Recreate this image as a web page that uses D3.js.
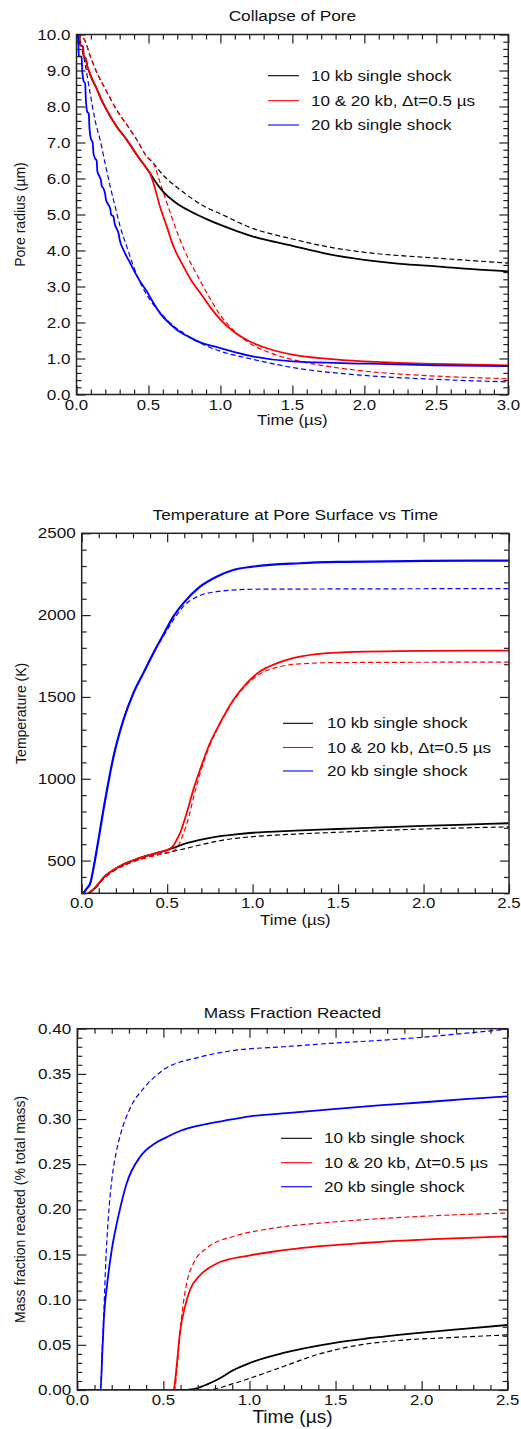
<!DOCTYPE html>
<html>
<head>
<meta charset="utf-8">
<script src="https://cdn.jsdelivr.net/npm/d3@7"></script>
<style>
  html, body { margin: 0; padding: 0; background: #fff; }
  svg { display: block; }
  text { font-family: "Liberation Sans", Arial, Helvetica, sans-serif; fill: #111; }
</style>
</head>
<body>
<svg id="chart" width="521" height="1429"></svg>
<script>
// ---- shared legend ----
const seriesNames = ["10 kb single shock", "10 & 20 kb, \u0394t=0.5 \u00b5s", "20 kb single shock"];
const seriesColors = ["#000000", "#ff0000", "#0000ff"];

// ---- Collapse of Pore: radius (µm) vs time (µs) ----
const poreXTicks = [0, 0.5, 1.0, 1.5, 2.0, 2.5, 3.0];
const poreYTicks = [0, 1, 2, 3, 4, 5, 6, 7, 8, 9, 10];
const poreBlackSolid = [[0,10],[0.02,9.95],[0.025,9.72],[0.045,9.66],[0.05,9.4],[0.065,9.32],[0.076,9.1],[0.09,8.95],[0.106,8.78],[0.14,8.5],[0.164,8.27],[0.21,7.9],[0.28,7.44],[0.35,7.07],[0.42,6.65],[0.488,6.28],[0.51,6.15],[0.55,5.9],[0.6,5.64],[0.7,5.3],[0.8,5.07],[0.9,4.88],[1.0,4.71],[1.2,4.42],[1.5,4.13],[1.75,3.9],[2.0,3.74],[2.25,3.63],[2.5,3.56],[2.75,3.48],[3.0,3.42]];
const poreBlackDashed = [[0,10],[0.05,9.89],[0.1,9.35],[0.14,8.96],[0.21,8.41],[0.28,7.9],[0.35,7.49],[0.42,7.07],[0.488,6.61],[0.535,6.42],[0.6,6.1],[0.7,5.75],[0.8,5.45],[0.9,5.2],[1.0,5.02],[1.2,4.65],[1.5,4.32],[1.75,4.1],[2.0,3.95],[2.5,3.79],[3.0,3.65]];
const poreRedSolid = [[0,10],[0.02,9.95],[0.025,9.72],[0.045,9.66],[0.05,9.4],[0.065,9.32],[0.076,9.1],[0.09,8.95],[0.106,8.78],[0.14,8.5],[0.164,8.27],[0.21,7.9],[0.28,7.44],[0.35,7.07],[0.42,6.65],[0.488,6.28],[0.51,6.15],[0.535,5.87],[0.58,5.22],[0.627,4.67],[0.674,4.11],[0.743,3.56],[0.8,3.15],[0.86,2.82],[0.93,2.42],[1.0,2.08],[1.1,1.72],[1.2,1.48],[1.35,1.25],[1.5,1.11],[1.75,0.99],[2.0,0.92],[2.5,0.85],[3.0,0.81]];
const poreRedDashed = [[0,10],[0.05,9.89],[0.1,9.35],[0.14,8.96],[0.21,8.41],[0.28,7.9],[0.35,7.49],[0.42,7.07],[0.488,6.61],[0.535,6.42],[0.58,5.9],[0.63,5.3],[0.7,4.5],[0.75,4.0],[0.8,3.6],[0.86,3.15],[0.93,2.65],[1.0,2.2],[1.1,1.75],[1.2,1.43],[1.35,1.15],[1.5,0.97],[1.75,0.78],[2.0,0.65],[2.5,0.51],[3.0,0.44]];
const poreBlueSolid = [[0,10],[0.012,9.98],[0.016,9.4],[0.035,9.38],[0.04,9.0],[0.05,8.7],[0.06,8.64],[0.065,8.2],[0.075,7.85],[0.085,7.8],[0.09,7.4],[0.1,7.1],[0.112,7.0],[0.118,6.7],[0.13,6.55],[0.14,6.5],[0.145,6.2],[0.16,6.05],[0.17,5.95],[0.175,5.8],[0.19,5.7],[0.2,5.55],[0.205,5.4],[0.222,5.27],[0.235,5.15],[0.24,5.0],[0.257,4.94],[0.265,4.75],[0.28,4.6],[0.292,4.48],[0.3,4.3],[0.326,4.02],[0.34,3.9],[0.361,3.74],[0.396,3.47],[0.442,3.14],[0.488,2.87],[0.535,2.54],[0.58,2.26],[0.64,2.0],[0.697,1.8],[0.78,1.6],[0.86,1.45],[1.0,1.29],[1.2,1.08],[1.5,0.92],[2.0,0.86],[2.5,0.81],[3.0,0.79]];
const poreBlueDashed = [[0,10],[0.05,9.38],[0.095,8.36],[0.13,7.6],[0.164,7.07],[0.2,6.4],[0.234,5.78],[0.27,5.2],[0.303,4.67],[0.35,4.1],[0.396,3.56],[0.45,3.05],[0.51,2.63],[0.57,2.33],[0.627,2.08],[0.68,1.88],[0.743,1.71],[0.8,1.56],[0.86,1.43],[1.0,1.2],[1.2,1.0],[1.5,0.75],[2.0,0.53],[2.5,0.42],[3.0,0.35]];

// ---- Temperature at pore surface (K) vs time (µs) ----
const tempXTicks = [0, 0.5, 1.0, 1.5, 2.0, 2.5];
const tempYTicks = [500, 1000, 1500, 2000, 2500];
const tempBlackSolid = [[0.04,300],[0.07,325],[0.1,360],[0.127,395],[0.16,425],[0.205,455],[0.25,480],[0.302,502],[0.35,520],[0.4,535],[0.45,550],[0.497,563],[0.55,582],[0.6,602],[0.692,626],[0.8,648],[0.9,660],[1.0,670],[1.25,683],[1.5,693],[1.75,703],[2.0,712],[2.25,720],[2.5,728]];
const tempBlackDashed = [[0.04,300],[0.07,322],[0.1,355],[0.127,388],[0.16,418],[0.205,448],[0.25,472],[0.302,494],[0.35,510],[0.4,525],[0.45,537],[0.497,547],[0.55,560],[0.6,572],[0.692,595],[0.8,620],[0.9,636],[1.0,646],[1.25,662],[1.5,673],[1.75,684],[2.0,693],[2.25,700],[2.5,706]];
const tempRedSolid = [[0.04,300],[0.07,325],[0.1,360],[0.127,395],[0.16,425],[0.205,455],[0.25,480],[0.302,502],[0.35,520],[0.4,535],[0.45,550],[0.497,563],[0.515,572],[0.536,590],[0.555,625],[0.575,667],[0.614,789],[0.653,932],[0.692,1054],[0.75,1217],[0.809,1339],[0.887,1481],[0.965,1583],[1.042,1655],[1.14,1705],[1.276,1746],[1.5,1771],[2.0,1781],[2.5,1783]];
const tempRedDashed = [[0.04,300],[0.07,322],[0.1,355],[0.127,388],[0.16,418],[0.205,448],[0.25,472],[0.302,494],[0.35,510],[0.4,525],[0.45,537],[0.497,547],[0.53,556],[0.555,575],[0.575,610],[0.6,680],[0.625,760],[0.653,880],[0.692,1030],[0.75,1205],[0.809,1335],[0.887,1475],[0.965,1575],[1.042,1640],[1.14,1680],[1.276,1702],[1.5,1710],[2.0,1712],[2.5,1713]];
const tempBlueSolid = [[0.01,300],[0.03,330],[0.05,361],[0.07,460],[0.088,565],[0.108,690],[0.127,809],[0.146,920],[0.166,1033],[0.185,1130],[0.205,1217],[0.244,1359],[0.302,1522],[0.36,1644],[0.419,1767],[0.477,1879],[0.536,1991],[0.594,2072],[0.692,2174],[0.789,2235],[0.887,2276],[1.0,2296],[1.276,2317],[1.5,2325],[2.0,2331],[2.5,2333]];
const tempBlueDashed = [[0.01,300],[0.03,330],[0.05,361],[0.07,460],[0.088,565],[0.108,690],[0.127,809],[0.146,920],[0.166,1033],[0.185,1130],[0.205,1217],[0.244,1359],[0.302,1522],[0.36,1644],[0.419,1767],[0.477,1869],[0.536,1970],[0.594,2052],[0.692,2120],[0.789,2143],[1.0,2158],[1.5,2160],[2.5,2162]];

// ---- Mass fraction reacted vs time (µs) ----
const massXTicks = [0, 0.5, 1.0, 1.5, 2.0, 2.5];
const massYTicks = [0, 0.05, 0.10, 0.15, 0.20, 0.25, 0.30, 0.35, 0.40];
const massBlackSolid = [[0,0],[0.6,0],[0.674,0.001],[0.751,0.006],[0.829,0.013],[0.906,0.022],[1.003,0.03],[1.197,0.041],[1.487,0.052],[1.68,0.057],[1.971,0.063],[2.26,0.068],[2.5,0.072]];
const massBlackDashed = [[0,0],[0.75,0],[0.906,0.007],[1.003,0.013],[1.197,0.026],[1.39,0.039],[1.584,0.048],[1.875,0.055],[2.165,0.058],[2.5,0.061]];
const massRedSolid = [[0,0],[0.56,0],[0.565,0.005],[0.577,0.026],[0.596,0.063],[0.625,0.092],[0.655,0.111],[0.713,0.127],[0.81,0.14],[1.003,0.149],[1.294,0.157],[1.68,0.163],[2.068,0.167],[2.5,0.17]];
const massRedDashed = [[0,0],[0.565,0],[0.57,0.005],[0.58,0.026],[0.606,0.081],[0.635,0.118],[0.674,0.14],[0.751,0.157],[0.906,0.17],[1.1,0.178],[1.487,0.186],[1.971,0.192],[2.5,0.196]];
const massBlueSolid = [[0,0],[0.135,0],[0.145,0.04],[0.155,0.081],[0.174,0.118],[0.2,0.155],[0.238,0.192],[0.287,0.229],[0.364,0.258],[0.45,0.273],[0.52,0.28],[0.6,0.287],[0.713,0.293],[0.85,0.298],[1.003,0.303],[1.25,0.307],[1.487,0.311],[1.75,0.315],[1.971,0.318],[2.25,0.322],[2.5,0.325]];
const massBlueDashed = [[0,0],[0.135,0],[0.145,0.045],[0.155,0.09],[0.165,0.14],[0.18,0.19],[0.2,0.232],[0.225,0.262],[0.254,0.285],[0.302,0.31],[0.39,0.335],[0.505,0.355],[0.7,0.368],[0.912,0.376],[1.2,0.38],[1.487,0.384],[1.75,0.387],[1.971,0.39],[2.2,0.394],[2.5,0.3995]];

const svg = d3.select("#chart");

// Horizontal text in a slightly widened face, like the plotting package's lettering
function label(g, x, y, s, size, sx, anchor) {
  return g.append("text")
    .attr("transform", `translate(${x},${y}) scale(${sx},1)`)
    .attr("text-anchor", anchor || "start")
    .style("font-size", size + "px")
    .text(s);
}

// Inward tick marks on all four sides, drawn with d3 axis generators
function drawTicks(g, p, x, y) {
  const majorLen = 9, minorLen = 5;
  const isMajor = (v, arr) => arr.some(m => Math.abs(m - v) < 1e-9);
  const xMinor = x.ticks(p.xMinorCount).filter(v => !isMajor(v, p.xTicks));
  const yMinor = y.ticks(p.yMinorCount).filter(v => !isMajor(v, p.yTicks));
  const sets = [
    [d3.axisBottom(x), p.xTicks, xMinor, `translate(0,${p.bottom})`],
    [d3.axisTop(x), p.xTicks, xMinor, `translate(0,${p.top})`],
    [d3.axisLeft(y), p.yTicks, yMinor, `translate(${p.left},0)`],
    [d3.axisRight(y), p.yTicks, yMinor, `translate(${p.right},0)`]
  ];
  sets.forEach(([ax, major, minor, tr]) => {
    [[major, majorLen], [minor, minorLen]].forEach(([vals, len]) => {
      const a = g.append("g").attr("transform", tr)
        .call(ax.tickValues(vals).tickSizeInner(-len).tickSizeOuter(0).tickFormat(""));
      a.select(".domain").remove();
      a.selectAll(".tick line").attr("stroke", "#222").attr("stroke-width", 1.2);
    });
  });
}

let clipId = 0;
function drawPanel(p) {
  const g = svg.append("g");
  const x = d3.scaleLinear().domain(p.xDomain).range([p.left, p.right]);
  const y = d3.scaleLinear().domain(p.yDomain).range([p.bottom, p.top]);

  const id = "clip" + (clipId++);
  svg.append("defs").append("clipPath").attr("id", id).append("rect")
    .attr("x", p.left).attr("y", p.top)
    .attr("width", p.right - p.left).attr("height", p.bottom - p.top);

  const line = d3.line().x(d => x(d[0])).y(d => y(d[1])).curve(d3.curveMonotoneX);
  const lines = g.append("g").attr("clip-path", `url(#${id})`);
  // dashed model curves beneath, solid curves on top
  p.series.forEach((s, i) => {
    lines.append("path").datum(s.dashed)
      .attr("fill", "none").attr("stroke", seriesColors[i])
      .attr("stroke-width", 1.2).attr("stroke-dasharray", "5,3")
      .attr("d", line);
  });
  p.series.forEach((s, i) => {
    lines.append("path").datum(s.solid)
      .attr("fill", "none").attr("stroke", seriesColors[i])
      .attr("stroke-width", i === 2 && p.thickBlue ? 2.2 : 1.8)
      .attr("stroke-linejoin", "round")
      .attr("d", line);
  });

  drawTicks(g.append("g"), p, x, y);

  // frame
  g.append("rect")
    .attr("x", p.left).attr("y", p.top)
    .attr("width", p.right - p.left).attr("height", p.bottom - p.top)
    .attr("fill", "none").attr("stroke", "#222").attr("stroke-width", 1.5);

  // tick labels
  const xf = d3.format(p.xFormat), yf = p.yFormat ? d3.format(p.yFormat) : String;
  p.xTicks.forEach(v => label(g, x(v), p.bottom + 15, xf(v), 14, 1.2, "middle"));
  p.yTicks.forEach(v => label(g, p.left - 6, y(v) + 5, yf(v), 14, 1.22, "end"));

  // titles
  label(g, (p.left + p.right) / 2, p.titleY, p.title, 15, 1.15, "middle");
  label(g, (p.left + p.right) / 2, p.xTitleY, "Time (\u00b5s)", p.xTitleSize, p.xTitleScale, "middle");
  g.append("text")
    .attr("transform", `translate(${p.yTitleX},${(p.top + p.bottom) / 2}) rotate(-90)`)
    .attr("text-anchor", "middle")
    .style("font-size", "14px")
    .text(p.yTitle);

  // legend
  const lg = g.append("g");
  seriesNames.forEach((name, i) => {
    const ly = p.legend.y[i];
    lg.append("line")
      .attr("x1", p.legend.x0).attr("x2", p.legend.x1)
      .attr("y1", ly).attr("y2", ly)
      .attr("stroke", seriesColors[i]).attr("stroke-width", 1.1);
    label(lg, p.legend.tx, ly + 5, name, 14, 1.22, "start");
  });
}

drawPanel({
  title: "Collapse of Pore", titleY: 21,
  yTitle: "Pore radius (\u00b5m)", yTitleX: 25,
  xTitleY: 425, xTitleSize: 14, xTitleScale: 1.2,
  left: 76.5, right: 508.3, top: 34.5, bottom: 394.5,
  xDomain: [0, 3], yDomain: [0, 10],
  xTicks: poreXTicks, yTicks: poreYTicks, xMinorCount: 30, yMinorCount: 50,
  xFormat: ".1f", yFormat: ".1f",
  series: [
    { solid: poreBlackSolid, dashed: poreBlackDashed },
    { solid: poreRedSolid, dashed: poreRedDashed },
    { solid: poreBlueSolid, dashed: poreBlueDashed }
  ],
  legend: { x0: 268, x1: 299, tx: 311, y: [75.7, 100.7, 125] }
});

drawPanel({
  title: "Temperature at Pore Surface vs Time", titleY: 520,
  yTitle: "Temperature (K)", yTitleX: 26,
  xTitleY: 925, xTitleSize: 14, xTitleScale: 1.2,
  left: 81.7, right: 509, top: 533.3, bottom: 893.3,
  xDomain: [0, 2.5], yDomain: [300, 2500], thickBlue: true,
  xTicks: tempXTicks, yTicks: tempYTicks, xMinorCount: 25, yMinorCount: 22,
  xFormat: ".1f", yFormat: null,
  series: [
    { solid: tempBlackSolid, dashed: tempBlackDashed },
    { solid: tempRedSolid, dashed: tempRedDashed },
    { solid: tempBlueSolid, dashed: tempBlueDashed }
  ],
  legend: { x0: 283, x1: 313, tx: 327, y: [723.3, 747.5, 771] }
});

drawPanel({
  title: "Mass Fraction Reacted", titleY: 1018,
  yTitle: "Mass fraction reacted (% total mass)", yTitleX: 25,
  xTitleY: 1423, xTitleSize: 18, xTitleScale: 1.06,
  left: 77.3, right: 507.7, top: 1028.7, bottom: 1390,
  xDomain: [0, 2.5], yDomain: [0, 0.4],
  xTicks: massXTicks, yTicks: massYTicks, xMinorCount: 25, yMinorCount: 40,
  xFormat: ".1f", yFormat: ".2f",
  series: [
    { solid: massBlackSolid, dashed: massBlackDashed },
    { solid: massRedSolid, dashed: massRedDashed },
    { solid: massBlueSolid, dashed: massBlueDashed }
  ],
  legend: { x0: 281, x1: 312, tx: 324, y: [1138.3, 1162.7, 1186.7] }
});
</script>
</body>
</html>
